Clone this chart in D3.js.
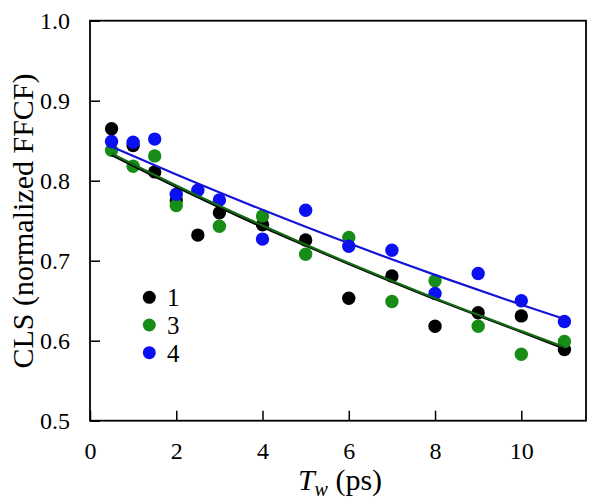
<!DOCTYPE html>
<html><head><meta charset="utf-8">
<script src="https://cdn.jsdelivr.net/npm/d3@7"></script>
<style>body{margin:0;background:#fff}svg{display:block}svg text{font-family:"Liberation Serif",LiberationSerif,Tinos,"DejaVu Serif",DejaVuSerif,"Noto Serif","Times New Roman",Times,serif !important;fill:#000}</style>
</head><body>
<svg id="c" width="600" height="504"></svg>
<script>
const tw = [0.5, 1, 1.5, 2, 2.5, 3, 4, 5, 6, 7, 8, 9, 10, 11];
const twGreen = [0.5, 1, 1.5, 2, 3, 4, 5, 6, 7, 8, 9, 10, 11];
const cls1 = [0.865, 0.844, 0.811, 0.776, 0.732, 0.760, 0.745, 0.726, 0.653, 0.681, 0.618, 0.635, 0.631, 0.589];
const cls3 = [0.838, 0.818, 0.831, 0.769, 0.743, 0.756, 0.708, 0.729, 0.649, 0.675, 0.618, 0.583, 0.599];
const cls4 = [0.849, 0.848, 0.852, 0.783, 0.788, 0.776, 0.727, 0.763, 0.718, 0.713, 0.659, 0.684, 0.650, 0.624];
const fitX = [0.5, 2, 4, 6, 8, 10, 11];
const fit1 = [0.832, 0.792, 0.742, 0.696, 0.652, 0.611, 0.590];
const fit3 = [0.834, 0.794, 0.744, 0.697, 0.653, 0.612, 0.592];
const fit4 = [0.8425, 0.8077, 0.7636, 0.7217, 0.6823, 0.6449, 0.6270];
const xTicks = [0, 2, 4, 6, 8, 10];
const yTicks = [0.5, 0.6, 0.7, 0.8, 0.9, 1.0];
const legendLabels = ["1", "3", "4"];

const series = [
  {x: tw, y: cls1, fy: fit1, pc: "#000000", lc: "#000000"},
  {x: twGreen, y: cls3, fy: fit3, pc: "#178c17", lc: "#146a14"},
  {x: tw, y: cls4, fy: fit4, pc: "#0a10f2", lc: "#1414d8"}
];

const svg = d3.select("#c");
const L = 90, R = 586, T = 20.7, B = 420.7;
const x = d3.scaleLinear().domain([0, 11.5]).range([L, R]);
const y = d3.scaleLinear().domain([0.5, 1.0]).range([B, T]);

// frame
svg.append("rect").attr("x", L).attr("y", T).attr("width", R - L).attr("height", B - T)
  .attr("fill", "none").attr("stroke", "#000").attr("stroke-width", 1.8);

// bottom axis
const gx = svg.append("g").attr("transform", `translate(0,${B})`);
gx.call(d3.axisBottom(x).tickValues(d3.range(0, 11.01, 0.5)).tickSize(-6).tickFormat(""));
gx.call(d3.axisBottom(x).tickValues(xTicks).tickSize(-10).tickPadding(21).tickFormat(d3.format("d")));
gx.selectAll(".domain").remove();
gx.attr("font-family", null);
gx.selectAll("line").attr("stroke", "#000").attr("stroke-width", 1.5);
gx.selectAll("text").attr("font-size", 24).attr("fill", "#000");

// left axis
const gy = svg.append("g").attr("transform", `translate(${L},0)`);
gy.call(d3.axisLeft(y).tickValues(d3.range(0.5, 1.0001, 0.025)).tickSize(-7).tickFormat(""));
gy.call(d3.axisLeft(y).tickValues(yTicks).tickSize(-10).tickPadding(20).tickFormat(d3.format(".1f")));
gy.selectAll(".domain").remove();
gy.attr("font-family", null);
gy.selectAll("line").attr("stroke", "#000").attr("stroke-width", 1.5);
gy.selectAll("text").attr("font-size", 24).attr("fill", "#000");

// points
series.forEach(s => {
  svg.append("g").selectAll("circle").data(s.x.map((v, i) => [v, s.y[i]])).join("circle")
    .attr("cx", d => x(d[0])).attr("cy", d => y(d[1])).attr("r", 6.7).attr("fill", s.pc);
});

// fit lines
const line = d3.line().x(d => x(d[0])).y(d => y(d[1])).curve(d3.curveMonotoneX);
series.forEach(s => {
  svg.append("path").datum(fitX.map((v, i) => [v, s.fy[i]])).attr("d", line)
    .attr("fill", "none").attr("stroke", s.lc).attr("stroke-width", 2.2);
});

// legend
const lg = svg.append("g");
series.forEach((s, i) => {
  const cy = 297.3 + i * 27.7;
  lg.append("circle").attr("cx", 149.3).attr("cy", cy).attr("r", 6.5).attr("fill", s.pc);
  lg.append("text").attr("x", 167).attr("y", cy + 9).attr("font-size", 25).text(legendLabels[i]);
});

// axis titles
svg.append("text").attr("transform", "translate(33,221) rotate(-90)").attr("text-anchor", "middle")
  .attr("font-size", 30).text("CLS (normalized FFCF)");
const xt = svg.append("text").attr("x", 340).attr("y", 490).attr("text-anchor", "middle").attr("font-size", 30);
xt.append("tspan").attr("font-style", "italic").text("T");
xt.append("tspan").attr("font-style", "italic").attr("font-size", 20).attr("dy", 6).text("w");
xt.append("tspan").attr("dy", -6).text(" (ps)");
</script>
</body></html>
